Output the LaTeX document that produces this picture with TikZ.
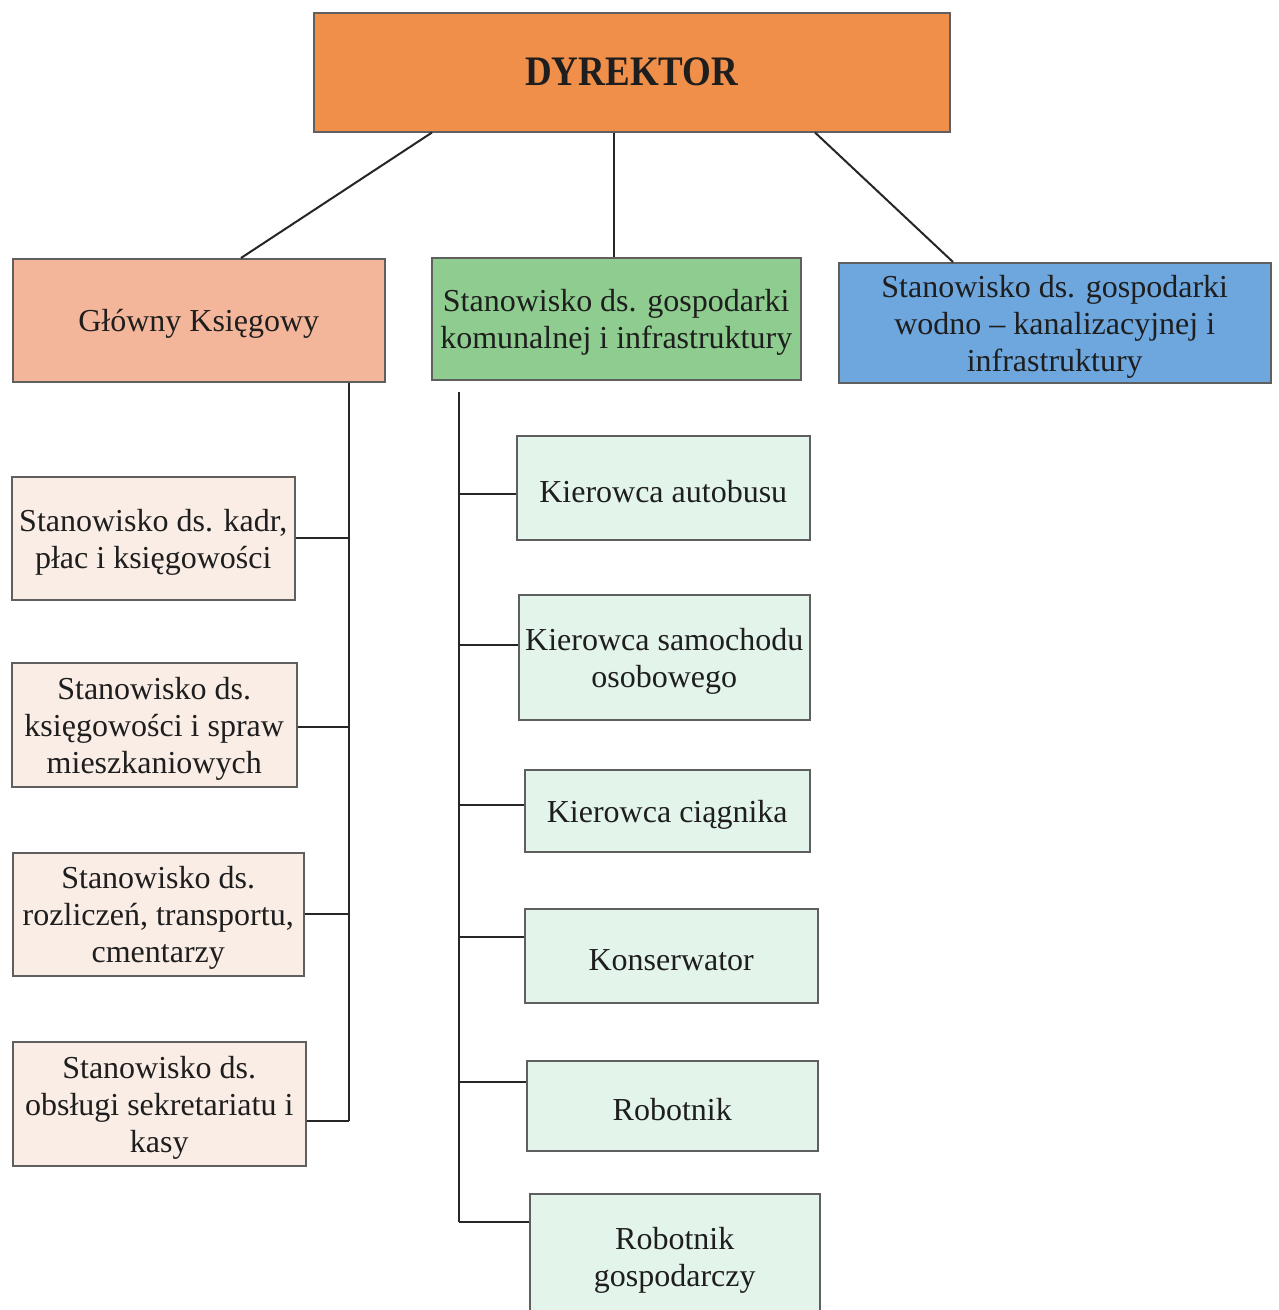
\documentclass[tikz,border=0pt]{standalone}
\usepackage{fontspec}
\setmainfont{Liberation Serif}
\definecolor{cDir}{RGB}{240,143,74}
\definecolor{cGK}{RGB}{244,182,154}
\definecolor{cGreen}{RGB}{142,205,143}
\definecolor{cBlue}{RGB}{110,166,222}
\definecolor{cBeige}{RGB}{250,237,229}
\definecolor{cMint}{RGB}{227,244,234}
\definecolor{cBorder}{RGB}{95,95,95}
\definecolor{cText}{RGB}{30,30,30}
\newcommand\obox[6]{\node[box,fill=#5,minimum width=#3,minimum height=#4,
  label={[txt]center:{#6}}] (#1) at (#2) {};}
\begin{document}
\begin{tikzpicture}[x=1pt,y=-1pt,
  box/.style={draw=cBorder,line width=1.5pt,anchor=north west,inner sep=0pt},
  txt/.style={align=center,text=cText,inner sep=0pt,yshift=-4pt,
    font=\fontsize{32}{37}\selectfont},
  conn/.style={draw=black!85,line width=2pt}]
\path[use as bounding box,fill=white] (0,0) rectangle (1278,1310);
\begin{scope}
\clip (0,0) rectangle (1278,1310);
% top
\node[box,fill=cDir,minimum width=636pt,minimum height=119pt,text=cText] (d) at (313,12)
  {\fontsize{42}{48}\selectfont\bfseries\scalebox{0.88}[1]{DYREKTOR}};
\obox{gk}{12,258}{372pt}{123pt}{cGK}{Główny Księgowy}
\obox{gr}{431,257}{369pt}{122pt}{cGreen}{Stanowisko ds. gospodarki\\komunalnej i infrastruktury}
\obox{bl}{838,262}{432pt}{120pt}{cBlue}{Stanowisko ds. gospodarki\\wodno – kanalizacyjnej i\\infrastruktury}
% left column
\obox{k1}{11,476}{283pt}{123pt}{cBeige}{Stanowisko ds. kadr,\\płac i księgowości}
\obox{k2}{11,662}{285pt}{124pt}{cBeige}{Stanowisko ds.\\księgowości i spraw\\mieszkaniowych}
\obox{k3}{12,852}{291pt}{123pt}{cBeige}{Stanowisko ds.\\rozliczeń, transportu,\\cmentarzy}
\obox{k4}{12,1041}{293pt}{124pt}{cBeige}{Stanowisko ds.\\obsługi sekretariatu i\\kasy}
% middle column
\obox{m1}{516,435}{293pt}{104pt}{cMint}{Kierowca autobusu}
\obox{m2}{518,594}{291pt}{125pt}{cMint}{Kierowca samochodu\\osobowego}
\obox{m3}{524,769}{285pt}{82pt}{cMint}{Kierowca ciągnika}
\obox{m4}{524,908}{293pt}{94pt}{cMint}{Konserwator}
\obox{m5}{526,1060}{291pt}{90pt}{cMint}{Robotnik}
\obox{m6}{529,1193}{290pt}{126pt}{cMint}{Robotnik\\gospodarczy}
% top connectors
\draw[conn] ([xshift=119pt]d.south west) -- ([xshift=229pt]gk.north west);
\draw[conn] ([xshift=301pt]d.south west) -- ([xshift=183pt]gr.north west);
\draw[conn] ([xshift=502pt]d.south west) -- ([xshift=115pt]bl.north west);
% left bus
\coordinate (lt) at ([xshift=337pt]gk.south west);
\coordinate (lb) at (349,1121);
\draw[conn] (lt) -- (lb);
\draw[conn] (k1.east) -- (k1.east -| lt);
\draw[conn] (k2.east |- 0,727) -- (lt |- 0,727);
\draw[conn] (k3.east) -- (k3.east -| lt);
\draw[conn] (k4.east |- lb) -- (lb);
% middle bus
\coordinate (mt) at (459,392);
\coordinate (mb) at (459,1222);
\draw[conn] (mt) -- (mb);
\draw[conn] (mt |- 0,494) -- (m1.west |- 0,494);
\draw[conn] (mt |- 0,645) -- (m2.west |- 0,645);
\draw[conn] (mt |- 0,805) -- (m3.west |- 0,805);
\draw[conn] (mt |- 0,937) -- (m4.west |- 0,937);
\draw[conn] (mt |- 0,1082) -- (m5.west |- 0,1082);
\draw[conn] (mb) -- (m6.west |- mb);
\end{scope}
\end{tikzpicture}
\end{document}
